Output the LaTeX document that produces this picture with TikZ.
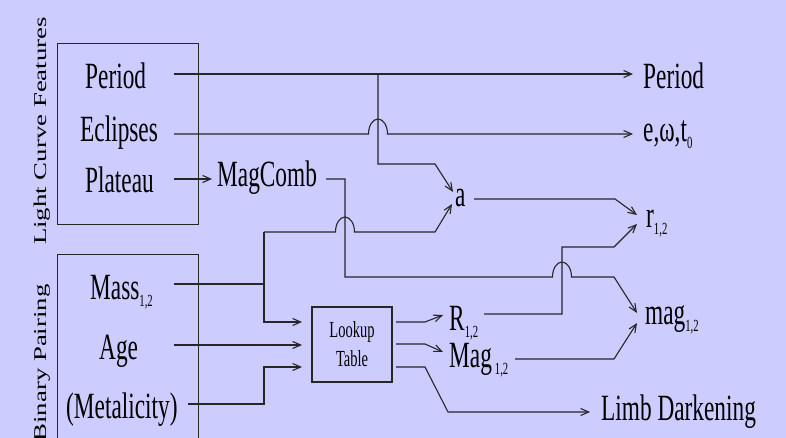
\documentclass[tikz,border=0pt]{standalone}
\usepackage{fontspec}
\setmainfont{Liberation Serif}[FakeStretch=0.63]
\newfontfamily\sidefont{Liberation Serif}[FakeStretch=1.49]
\usetikzlibrary{arrows.meta}
\definecolor{bgcol}{RGB}{204,204,255}
\definecolor{lncol}{RGB}{38,38,38}
\newcommand\lsub[1]{\raisebox{-7pt}{\fontsize{17}{17}\selectfont #1}}
\begin{document}
\begin{tikzpicture}[x=1pt,y=-1pt,
  lbl/.style={inner sep=0pt, anchor=base west, font=\fontsize{37}{40}\selectfont},
  sidelbl/.style={inner sep=0pt, anchor=base, rotate=90, font=\sidefont\fontsize{18}{20}\selectfont},
  wire/.style={draw=lncol, line width=1.1pt},
  arr/.style={wire, -{Straight Barb[length=8pt,width=7pt]}},
  framebox/.style={draw=lncol, line width=1.1pt, inner sep=0pt},
  bump/.style={}]
\fill[bgcol] (0,0) rectangle (786,438);
\useasboundingbox (0,0) rectangle (786,438);
\clip (0,0) rectangle (786,438);

% frames
\node[framebox, anchor=north west, minimum width=141pt, minimum height=181pt] (lcfbox) at (57,43) {};
\node[framebox, anchor=north west, minimum width=141pt, minimum height=220pt] (bpbox) at (57,254) {};
\node[framebox, minimum width=80pt, minimum height=75pt, align=center,
      font=\fontsize{23}{29}\selectfont] (lookup) at (352,344.5) {Lookup\\Table};

% side labels
\node[sidelbl] (lcflbl) at (46,131) {Light Curve Features};
\node[sidelbl] (bplbl) at (46,363) {Binary Pairing};

% texts
\node[lbl] (periodL) at (85,89) {Period};
\node[lbl] (eclipses) at (80,142) {Eclipses};
\node[lbl] (plateau) at (85,193) {Plateau};
\node[lbl] (magcomb) at (217,187) {MagComb};
\node[lbl] (periodR) at (643,89) {Period};
\node[lbl] (ewt) at (643,142) {e,ω,t\lsub{0}};
\node[lbl] (a) at (455,207) {a};
\node[lbl] (r) at (646,227) {r\lsub{1,2}};
\node[lbl] (mag) at (645,324) {mag\lsub{1,2}};
\node[lbl] (mass) at (90,299) {Mass\lsub{1,2}};
\node[lbl] (age) at (99,359) {Age};
\node[lbl] (metal) at (66,418) {(Metalicity)};
\node[lbl] (R) at (449,330) {R\lsub{1,2}};
\node[lbl] (Mag) at (449,367) {Mag\hspace{3pt}\lsub{1,2}};
\node[lbl] (limb) at (601,420) {Limb Darkening};

% coordinates
\coordinate (pA) at (174,74);   \coordinate (pB) at (633,74);
\coordinate (pJ) at (378,74);   \coordinate (pK) at (378,164);
\coordinate (pL) at (435,164);  \coordinate (aIn1) at (453,192);
\coordinate (eA) at (174,134);  \coordinate (eJ) at (368.5,134);
\coordinate (eB) at (633,134);
\coordinate (plA) at (174,179); \coordinate (plB) at (212,179);
\coordinate (mcA) at (326,179); \coordinate (mcB) at (345,179);
\coordinate (mcC) at (345,277); \coordinate (mcD) at (552.5,277);
\coordinate (mcE) at (614,277); \coordinate (magIn1) at (637,313);
\coordinate (msA) at (174,284); \coordinate (msJ) at (264,284);
\coordinate (msT) at (264,232); \coordinate (msB) at (264,322);
\coordinate (luIn1) at (302,322); \coordinate (msD) at (335.5,232);
\coordinate (msE) at (435,232); \coordinate (aIn2) at (452,204);
\coordinate (agA) at (174,345); \coordinate (luIn2) at (302,345);
\coordinate (meA) at (188,404); \coordinate (meB) at (264,404);
\coordinate (meC) at (264,367); \coordinate (luIn3) at (302,367);
\coordinate (lo1) at (396,322); \coordinate (lo1b) at (425,322); \coordinate (RIn) at (443,315);
\coordinate (lo2) at (396,344); \coordinate (lo2b) at (425,344); \coordinate (MagIn) at (443,352);
\coordinate (lo3) at (396,367); \coordinate (lo3b) at (425,367); \coordinate (lo3c) at (448,412);
\coordinate (limbIn) at (590,412);
\coordinate (RA) at (484,314); \coordinate (RB) at (562,314);
\coordinate (RC) at (562,247); \coordinate (RD) at (614,247); \coordinate (rIn2) at (637,224);
\coordinate (aA) at (474,199); \coordinate (aB) at (615,199); \coordinate (rIn1) at (637,215);
\coordinate (MgA) at (515,359); \coordinate (MgB) at (614,359); \coordinate (magIn2) at (637,323);

% connectors
\draw[arr] (pA) -- (pB);
\draw[arr] (pJ) -- (pK) -- (pL) -- (aIn1);
\draw[arr] (eA) -- (eJ) arc[start angle=180, end angle=360, x radius=9.5, y radius=15] -- (eB);
\draw[arr] (plA) -- (plB);
\draw[arr] (mcA) -- (mcB) -- (mcC) -- (mcD) arc[start angle=180, end angle=360, x radius=9.5, y radius=15] -- (mcE) -- (magIn1);
\draw[wire] (msA) -- (msJ);
\draw[arr] (msT) -- (msB) -- (luIn1);
\draw[arr] (msT) -- (msD) arc[start angle=180, end angle=360, x radius=9.5, y radius=15] -- (msE) -- (aIn2);
\draw[arr] (agA) -- (luIn2);
\draw[arr] (meA) -- (meB) -- (meC) -- (luIn3);
\draw[arr] (lo1) -- (lo1b) -- (RIn);
\draw[arr] (lo2) -- (lo2b) -- (MagIn);
\draw[arr] (lo3) -- (lo3b) -- (lo3c) -- (limbIn);
\draw[arr] (RA) -- (RB) -- (RC) -- (RD) -- (rIn2);
\draw[arr] (aA) -- (aB) -- (rIn1);
\draw[arr] (MgA) -- (MgB) -- (magIn2);
\end{tikzpicture}
\end{document}
